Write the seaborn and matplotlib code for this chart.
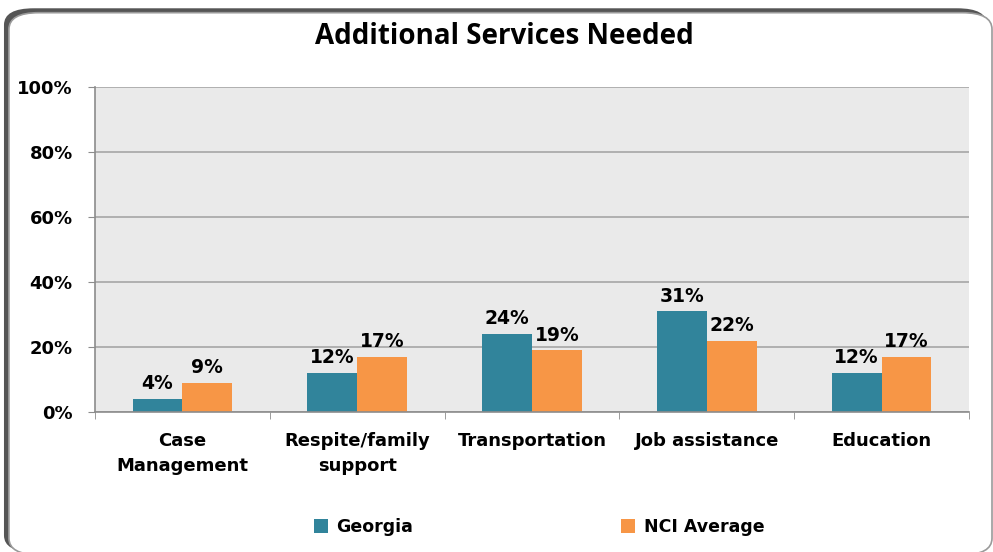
import matplotlib
matplotlib.use("Agg")
import matplotlib.pyplot as plt
import seaborn as sns
import pandas as pd
from matplotlib.patches import FancyBboxPatch
from matplotlib.ticker import FixedLocator, PercentFormatter

categories = ["Case\nManagement", "Respite/family\nsupport", "Transportation", "Job assistance", "Education"]
georgia = [4, 12, 24, 31, 12]
nci = [9, 17, 19, 22, 17]
series = ["Georgia", "NCI Average"]
colors = ["#31849B", "#F79646"]

df = pd.DataFrame({
    "category": categories * 2,
    "value": georgia + nci,
    "series": [series[0]] * len(categories) + [series[1]] * len(categories),
})

sns.set_style("white")
plt.rcParams["font.family"] = ["DejaVu Sans"]
plt.rcParams["text.color"] = "black"
plt.rcParams["xtick.color"] = "black"
plt.rcParams["ytick.color"] = "black"

fig = plt.figure(figsize=(9.93, 5.52), dpi=100)
# rounded frame with shadow
shadow = FancyBboxPatch((0.004, 0.0), 0.99, 0.985, boxstyle="round,pad=0,rounding_size=0.03",
                        transform=fig.transFigure, facecolor="#555555", edgecolor="none", zorder=0)
frame = FancyBboxPatch((0.009, -0.005), 0.99, 0.982, boxstyle="round,pad=0,rounding_size=0.03",
                       transform=fig.transFigure, facecolor="white", edgecolor="#9A9A9A", linewidth=1.2, zorder=1)
fig.patches.extend([shadow, frame])

ax = fig.add_axes([0.0957, 0.2536, 0.8801, 0.5888])
ax.set_zorder(2)
sns.barplot(data=df, x="category", y="value", hue="series", palette=colors,
            width=0.57, gap=0, saturation=1, linewidth=0, ax=ax, legend=True)
ax.set_facecolor("#EAEAEA")
ax.set_ylim(0, 100)
ax.set_xlim(-0.5, len(categories) - 0.5)
ax.set_yticks([0, 20, 40, 60, 80, 100])
ax.yaxis.set_major_formatter(PercentFormatter(decimals=0))
ax.grid(axis="y", color="#A6A6A6", linewidth=1.2)
ax.set_axisbelow(True)
for s in ["top", "right"]:
    ax.spines[s].set_visible(False)
for s in ["left", "bottom"]:
    ax.spines[s].set_color("#8C8C8C")
    ax.spines[s].set_linewidth(1.2)
ax.tick_params(axis="y", left=True, length=5, color="#8C8C8C", labelsize=13, pad=11)
ax.tick_params(axis="x", which="major", bottom=False, labelsize=13, pad=11)
ax.xaxis.set_minor_locator(FixedLocator([i - 0.5 for i in range(len(categories) + 1)]))
ax.tick_params(axis="x", which="minor", bottom=True, length=5, color="#8C8C8C")
for lab in ax.get_yticklabels() + ax.get_xticklabels():
    lab.set_fontweight("bold")
    lab.set_linespacing(1.5)
ax.set_xlabel("")
ax.set_ylabel("")

for cont in ax.containers:
    ax.bar_label(cont, fmt="%d%%", fontsize=13.5, fontweight="bold", padding=4)

fig.text(0.508, 0.934, "Additional Services Needed", ha="center", va="center",
         fontsize=20, fontweight="bold", family=["Open Sans", "DejaVu Sans"])

handles, labels = ax.get_legend_handles_labels()
ax.legend_.remove()
fig.legend(handles, labels, loc="center", bbox_to_anchor=(0.543, 0.045), ncol=2,
           frameon=False, columnspacing=12, handlelength=0.8, handleheight=0.8,
           handletextpad=0.5, prop={"weight": "bold", "size": 12.5})

fig.savefig("out.png", dpi=100)
